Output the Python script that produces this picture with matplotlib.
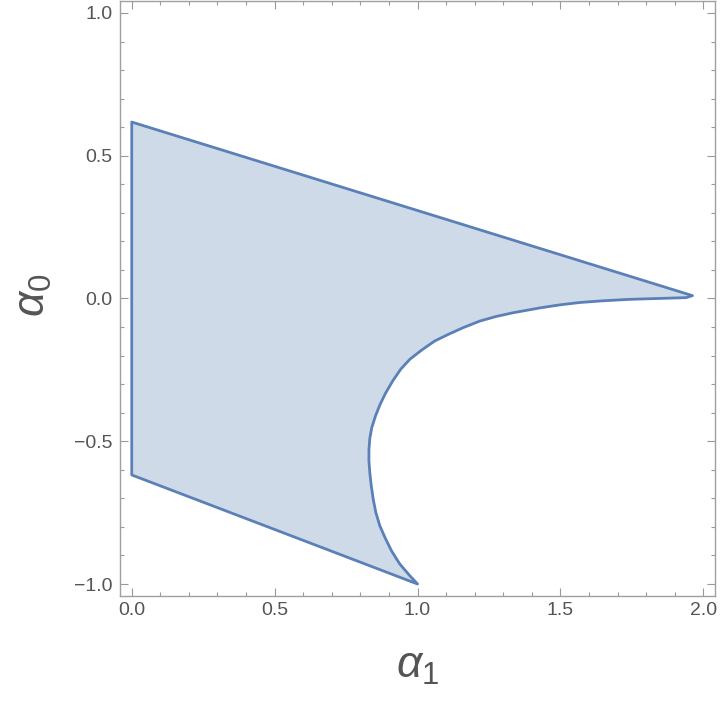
import matplotlib.pyplot as plt
from matplotlib.ticker import MultipleLocator

# straight edges of the region
top_left = (0.0, 0.618)
tip = (1.962, 0.010)
bottom_left = (0.0, -0.618)

# curved boundary, from the bottom cusp up to the tip
curve_x = [1.000, 0.973, 0.938, 0.909, 0.886, 0.868, 0.854, 0.845, 0.838, 0.833,
           0.830, 0.830, 0.833, 0.840, 0.853, 0.869, 0.889, 0.913, 0.941, 0.973,
           1.014, 1.060, 1.107, 1.160, 1.218, 1.275, 1.334, 1.428, 1.500, 1.568,
           1.650, 1.742, 1.840, 1.940]
curve_y = [-1.000, -0.971, -0.930, -0.884, -0.837, -0.796, -0.749, -0.703, -0.655, -0.610,
           -0.570, -0.530, -0.490, -0.452, -0.411, -0.371, -0.330, -0.289, -0.248, -0.213,
           -0.181, -0.149, -0.126, -0.102, -0.079, -0.063, -0.050, -0.033, -0.022, -0.014,
           -0.008, -0.003, 0.000, 0.003]

xs = [top_left[0], tip[0]] + curve_x[::-1] + [bottom_left[0]]
ys = [top_left[1], tip[1]] + curve_y[::-1] + [bottom_left[1]]

plt.rcParams['mathtext.fontset'] = 'custom'
plt.rcParams['mathtext.it'] = 'Liberation Sans:italic'
plt.rcParams['mathtext.rm'] = 'Liberation Sans'

fig = plt.figure(figsize=(7.2, 7.02), dpi=100)
ax = fig.add_axes([0.1663, 0.151, 0.8272, 0.8476])

ax.fill(xs, ys, facecolor='#cfdae8', edgecolor='#5b80b8', linewidth=2.0,
        joinstyle='round')

ax.set_xlim(-0.042, 2.042)
ax.set_ylim(-1.042, 1.042)

ax.xaxis.set_major_locator(MultipleLocator(0.5))
ax.xaxis.set_minor_locator(MultipleLocator(0.1))
ax.yaxis.set_major_locator(MultipleLocator(0.5))
ax.yaxis.set_minor_locator(MultipleLocator(0.1))
ax.xaxis.set_major_formatter(lambda v, p: f'{v:.1f}'.replace('-', '\u2212'))
ax.yaxis.set_major_formatter(lambda v, p: f'{v:.1f}'.replace('-', '\u2212'))

ax.tick_params(which='both', direction='in', top=True, right=True,
               color='#999999', width=0.8, labelcolor='#555555',
               labelsize=14)
ax.tick_params(which='major', length=5.5)
ax.tick_params(which='minor', length=3)
ax.tick_params(axis='x', pad=4)
ax.tick_params(axis='y', pad=5)
for s in ax.spines.values():
    s.set_color('#a0a0a0')
    s.set_linewidth(1.0)

for lab in ax.get_xticklabels() + ax.get_yticklabels():
    lab.set_family('Liberation Sans')

fig.text(418 / 720, 1 - 665 / 702, r'$\alpha_1$', fontsize=32, color='#555555',
         ha='center', va='center')
fig.text(33 / 720, 1 - 295 / 702, r'$\alpha_0$', fontsize=32, color='#555555',
         ha='center', va='center', rotation=90)

fig.savefig('out.png', dpi=100)
